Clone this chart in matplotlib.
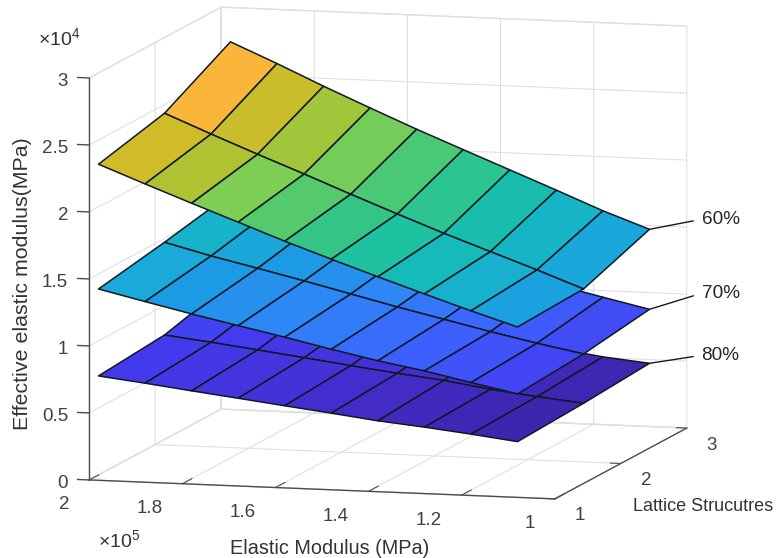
import matplotlib
matplotlib.use("Agg")
import matplotlib.pyplot as plt
import numpy as np
from matplotlib.colors import LinearSegmentedColormap, Normalize
from mpl_toolkits.mplot3d import proj3d

plt.rcParams['font.family'] = ['Liberation Sans', 'DejaVu Sans']
plt.rcParams['mathtext.fontset'] = 'custom'
plt.rcParams['mathtext.rm'] = 'Liberation Sans'
plt.rcParams['mathtext.default'] = 'regular'

# elastic modulus (x 1e5 MPa), lattice structure index
modulus = [1.98, 1.88, 1.78, 1.68, 1.58, 1.48, 1.38, 1.28, 1.18, 1.08]
lattice = [1, 2, 3]

# effective modulus (x 1e4 MPa), one row per lattice structure
z60_1 = [2.359, 2.226, 2.096, 1.969, 1.841, 1.721, 1.604, 1.490, 1.378, 1.272]
z60_2 = [2.475, 2.334, 2.197, 2.064, 1.927, 1.794, 1.664, 1.541, 1.419, 1.291]
z60_3 = [2.744, 2.596, 2.441, 2.293, 2.148, 2.010, 1.873, 1.736, 1.596, 1.472]

z70_1 = [1.428, 1.348, 1.270, 1.197, 1.125, 1.049, 0.977, 0.916, 0.843, 0.772]
z70_2 = [1.512, 1.424, 1.346, 1.266, 1.183, 1.100, 1.022, 0.944, 0.872, 0.806]
z70_3 = [1.610, 1.530, 1.450, 1.360, 1.270, 1.180, 1.100, 1.030, 0.951, 0.875]

z80_1 = [0.779, 0.739, 0.696, 0.655, 0.613, 0.572, 0.529, 0.496, 0.458, 0.416]
z80_2 = [0.820, 0.780, 0.737, 0.693, 0.648, 0.605, 0.566, 0.514, 0.473, 0.438]
z80_3 = [0.950, 0.890, 0.840, 0.780, 0.730, 0.680, 0.630, 0.555, 0.506, 0.472]

x_ticks = [2, 1.8, 1.6, 1.4, 1.2, 1]
x_tick_labels = ['2', '1.8', '1.6', '1.4', '1.2', '1']
y_ticks = [1, 2, 3]
y_tick_labels = ['1', '2', '3']
z_ticks = [0, 0.5, 1, 1.5, 2, 2.5, 3]
z_tick_labels = ['0', '0.5', '1', '1.5', '2', '2.5', '3']

# parula as it looks in the picture
cmap_stops = [
    (0.00, (60, 35, 165)), (0.08, (68, 45, 205)), (0.155, (68, 58, 238)),
    (0.25, (60, 100, 255)), (0.33, (45, 135, 245)), (0.40, (28, 155, 228)),
    (0.44, (25, 172, 215)), (0.50, (20, 185, 190)), (0.55, (25, 192, 165)),
    (0.64, (65, 200, 120)), (0.72, (125, 205, 85)), (0.78, (175, 195, 50)),
    (0.835, (208, 188, 40)), (0.884, (250, 180, 60)), (1.00, (250, 250, 20)),
]
parula = LinearSegmentedColormap.from_list(
    "parula", [(p, tuple(c / 255 for c in rgb)) for p, rgb in cmap_stops])

fig = plt.figure(figsize=(7.76, 5.58), dpi=100)
# square axes wider than the figure is tall, so nothing gets clipped at its edges
ax = fig.add_axes([-10.5 / 776, -93.5 / 558, 1.0, 776 / 558], projection='3d',
                  proj_type='ortho', computed_zorder=False)
ax.view_init(elev=8.5, azim=-74.6)
ax.set_box_aspect((483, 497, 406.5), zoom=1.005)
ax.set_xlim(2, 1, view_margin=0)
ax.set_ylim(1, 3, view_margin=0)
ax.set_zlim(0, 3, view_margin=0)

X, Y = np.meshgrid(modulus, lattice)
surfaces = [
    np.array([z80_1, z80_2, z80_3]),
    np.array([z70_1, z70_2, z70_3]),
    np.array([z60_1, z60_2, z60_3]),
]
norm = Normalize(min(z80_1), max(z60_3))
for i, Z in enumerate(surfaces):
    # flat shading, colour comes from the first corner of each cell
    ax.plot_surface(X, Y, Z, rstride=1, cstride=1, facecolors=parula(norm(Z)), shade=False,
                    edgecolor=(0.05, 0.1, 0.15), linewidth=1.1, antialiased=True, zorder=i + 1)

ax.set_xticks(x_ticks)
ax.set_yticks(y_ticks)
ax.set_zticks(z_ticks)
ax.set_xticklabels([])
ax.set_yticklabels([])
ax.set_zticklabels([])
# mplot3d keeps the z axis on the right for this view, so it is redrawn on the left below
ax.zaxis.set_ticks_position('none')

axis_color = (0.3, 0.3, 0.3)
for axis, out in zip((ax.xaxis, ax.yaxis, ax.zaxis), (0.9, 0.28, 0.28)):
    axis.set_pane_color((1, 1, 1, 1))
    axis.pane.set_edgecolor((0.88, 0.88, 0.88))
    axis.line.set_color(axis_color)
    axis.line.set_linewidth(1.0)
    axis._axinfo['grid'].update(color=(0.88, 0.88, 0.88), linewidth=0.8)
    axis._axinfo['tick'].update(inward_factor=0.0, outward_factor=out)
    axis.set_tick_params(color=axis_color, width=1.0)

ax.plot([2, 2], [1, 1], [0, 3], color=axis_color, lw=1.0, zorder=0.5)
for v in z_ticks:
    ax.plot([2, 2.025], [1, 1], [v, v], color=axis_color, lw=1.0, zorder=0.5)

tick_color = (0.25, 0.25, 0.25)
text_color = (0.2, 0.2, 0.2)
proj = ax.get_proj()


def tick_text(x, y, z, label, dx, dy, ha):
    px, py, _ = proj3d.proj_transform(x, y, z, proj)
    ax.annotate(label, xy=(px, py), xytext=(dx, dy), textcoords='offset pixels', fontsize=13.5,
                color=tick_color, ha=ha, va='center', annotation_clip=False)


for v, lab in zip(x_ticks, x_tick_labels):
    tick_text(v, 1, 0, lab, -20, -25, 'right')
for v, lab in zip(y_ticks, y_tick_labels):
    tick_text(1, v, 0, lab, 25, -17, 'center')
for v, lab in zip(z_ticks, z_tick_labels):
    tick_text(2, 1, v, lab, -21, -4, 'right')

fig.text(23 / 776, 1 - 284 / 558, 'Effective elastic modulus(MPa)', rotation=90, fontsize=15.4,
         color=text_color, ha='center', va='center')
fig.text(330 / 776, 1 - 548 / 558, 'Elastic Modulus (MPa)', fontsize=14.3, color=text_color,
         ha='center', va='center')
fig.text(703 / 776, 1 - 506.5 / 558, 'Lattice Strucutres', fontsize=13, color=text_color,
         ha='center', va='center')
fig.text(38 / 776, 1 - 38 / 558, r'$\times 10^{4}$', fontsize=14, color=text_color, ha='left', va='center')
fig.text(98 / 776, 1 - 540 / 558, r'$\times 10^{5}$', fontsize=14, color=text_color, ha='left', va='center')

# labels with leader lines from the far corner of each surface
for Z, name, off in zip(surfaces, ['80%', '70%', '60%'], [(52, 8), (52, 16), (52, 10)]):
    px, py, _ = proj3d.proj_transform(modulus[-1], lattice[-1], Z[-1, -1], proj)
    ax.annotate(name, xy=(px, py), xytext=off, textcoords='offset pixels', fontsize=13.7,
                color=(0.15, 0.15, 0.15), va='center', annotation_clip=False,
                arrowprops=dict(arrowstyle='-', color=(0.1, 0.1, 0.1), lw=1.0, relpos=(0, 0.5),
                                shrinkA=4, shrinkB=0))

fig.savefig("out.png", dpi=100)
